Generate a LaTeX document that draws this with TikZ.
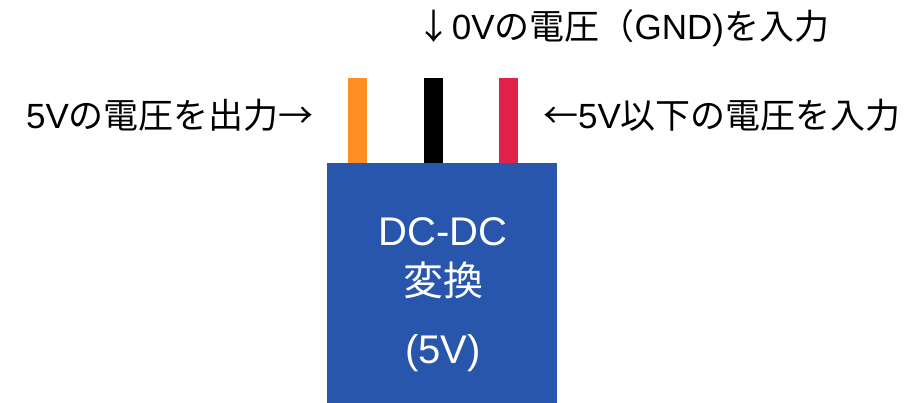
\documentclass[tikz,border=0pt]{standalone}
\usepackage{fontspec}
\setmainfont{Noto Sans CJK JP}
\newfontfamily\lat{Liberation Sans}
\definecolor{wireorange}{RGB}{255,142,38}
\definecolor{wirered}{RGB}{224,34,74}
\definecolor{boxblue}{RGB}{39,86,172}
\tikzset{
  wire/.style={draw=none, inner sep=0pt, minimum width=19pt, minimum height=85pt},
  dcbox/.style={fill=boxblue, draw=none, inner sep=0pt, minimum width=230pt, minimum height=241pt},
  lbl/.style={inner sep=0pt, font=\fontsize{35}{42}\selectfont},
  boxtxt/.style={inner sep=0pt, text=white, align=center, font=\fontsize{40}{48}\selectfont}
}
\begin{document}
\begin{tikzpicture}[x=1pt,y=-1pt]
\useasboundingbox (0,0) rectangle (916,403);
\node[wire, fill=wireorange] (w1) at (357.5,120.5) {};
\node[wire, fill=black] (w2) at (433,120.5) {};
\node[wire, fill=wirered] (w3) at (508.5,120.5) {};
\node[dcbox] (dc) at (442,283.5) {};
\node[boxtxt] (t1) at (443,232) {{\lat DC-DC}};
\node[boxtxt] (t2) at (443,280) {変換};
\node[boxtxt] (t3) at (443,353) {{\lat (5V)}};
\node[lbl] (left) at (170,115) {{\lat 5V}の電圧を出力→};
\node[lbl] (right) at (722,115) {←{\lat 5V}以下の電圧を入力};
\node[lbl] (top) at (623,28) {↓{\lat 0V}の電圧（{\lat GND)}を入力};
\end{tikzpicture}
\end{document}
